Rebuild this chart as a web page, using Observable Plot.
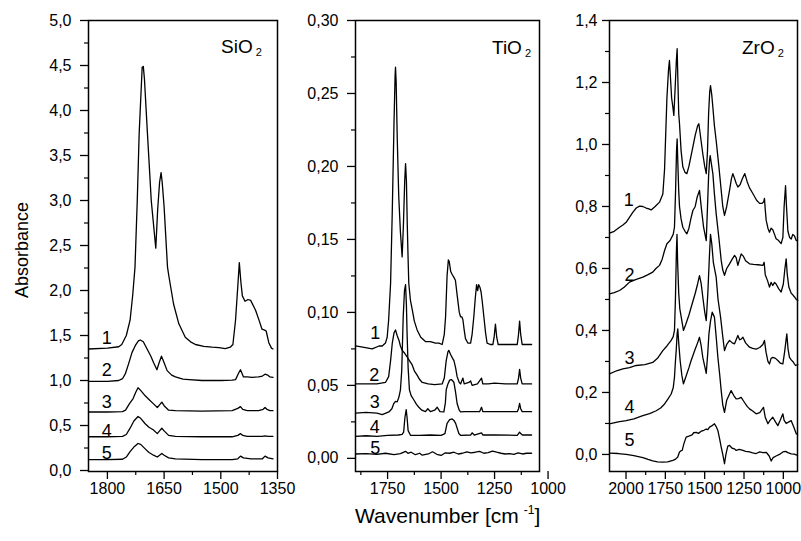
<!DOCTYPE html>
<html>
<head>
<meta charset="utf-8">
<script src="https://cdn.jsdelivr.net/npm/d3@7"></script>
<script src="https://cdn.jsdelivr.net/npm/@observablehq/plot@0.6"></script>
<style>
  html, body { margin: 0; padding: 0; background: #fff; }
  #wrap { position: relative; width: 801px; height: 541px; overflow: hidden; font-family: "Liberation Sans", Arial, sans-serif; color: #000; }
  .panel { position: absolute; top: 0; }
  .lbl { position: absolute; white-space: nowrap; line-height: 1; }
  .lbl sub { font-size: 11px; position: relative; top: 3px; vertical-align: baseline; margin-left: 3px; }
  .lbl sup { font-size: 12px; position: relative; top: -9px; vertical-align: baseline; margin-left: 5px; }
</style>
</head>
<body>
<div id="wrap">
  <div id="p1" class="panel" style="left:28px"></div>
  <div id="p2" class="panel" style="left:295px"></div>
  <div id="p3" class="panel" style="left:549px"></div>
  <div class="lbl" style="left:221px; top:37px; font-size:19px">SiO<sub>2</sub></div>
  <div class="lbl" style="left:492px; top:38px; font-size:19px">TiO<sub>2</sub></div>
  <div class="lbl" style="left:742px; top:38px; font-size:19px">ZrO<sub>2</sub></div>
  <div class="lbl" style="left:22px; top:250px; font-size:18px; transform: translate(-50%,-50%) rotate(-90deg)">Absorbance</div>
  <div class="lbl" style="left:355px; top:505px; font-size:21px">Wavenumber [cm<sup>-1</sup>]</div>
</div>
<script>
// ---------- SiO2 panel ----------
const sio2Curve1 = [[1850,1.35],[1800,1.36],[1770,1.375],[1762,1.40],[1750,1.50],[1740,1.67],[1733,1.95],[1727,2.26],[1721,3.0],[1716,3.74],[1708,4.48],[1705,4.49],[1702,4.35],[1694,3.74],[1684,3.0],[1672,2.47],[1667,2.9],[1662,3.2],[1658,3.31],[1655,3.2],[1650,2.93],[1641,2.26],[1637,2.15],[1625,1.85],[1611,1.63],[1594,1.48],[1580,1.43],[1567,1.40],[1545,1.38],[1523,1.37],[1505,1.365],[1488,1.355],[1475,1.37],[1468,1.40],[1461,1.67],[1455,2.05],[1451,2.31],[1447,2.10],[1443,1.94],[1436,1.88],[1428,1.90],[1421,1.89],[1408,1.78],[1398,1.66],[1391,1.57],[1384,1.56],[1380,1.55],[1373,1.42],[1366,1.36],[1362,1.35]];
const sio2Curve2 = [[1850,0.99],[1800,0.99],[1770,1.0],[1760,1.02],[1752,1.08],[1744,1.185],[1735,1.31],[1726,1.39],[1718,1.44],[1713,1.45],[1705,1.43],[1695,1.35],[1685,1.27],[1678,1.20],[1669,1.12],[1663,1.20],[1657,1.27],[1652,1.22],[1642,1.11],[1630,1.06],[1620,1.04],[1600,1.015],[1584,1.01],[1550,1.0],[1500,1.0],[1470,1.005],[1461,1.01],[1453,1.08],[1448,1.12],[1444,1.08],[1440,1.04],[1430,1.04],[1418,1.035],[1400,1.04],[1390,1.05],[1383,1.07],[1376,1.06],[1370,1.04],[1362,1.035]];
const sio2Curve3 = [[1850,0.65],[1800,0.65],[1760,0.655],[1752,0.67],[1742,0.74],[1732,0.80],[1725,0.87],[1719,0.92],[1712,0.89],[1700,0.83],[1690,0.79],[1678,0.74],[1668,0.70],[1662,0.73],[1656,0.76],[1650,0.72],[1638,0.67],[1620,0.665],[1550,0.66],[1470,0.665],[1455,0.69],[1448,0.71],[1442,0.68],[1430,0.665],[1400,0.665],[1388,0.68],[1383,0.70],[1378,0.68],[1370,0.665],[1362,0.665]];
const sio2Curve4 = [[1850,0.375],[1800,0.375],[1760,0.38],[1750,0.40],[1740,0.47],[1730,0.55],[1719,0.60],[1712,0.58],[1700,0.52],[1690,0.48],[1678,0.45],[1668,0.41],[1662,0.44],[1656,0.47],[1650,0.44],[1638,0.39],[1620,0.38],[1550,0.375],[1470,0.375],[1455,0.39],[1448,0.41],[1442,0.39],[1430,0.38],[1390,0.38],[1383,0.385],[1375,0.38],[1362,0.38]];
const sio2Curve5 = [[1850,0.12],[1800,0.12],[1760,0.125],[1750,0.15],[1740,0.21],[1730,0.26],[1719,0.30],[1712,0.29],[1700,0.24],[1690,0.20],[1678,0.17],[1668,0.15],[1662,0.17],[1656,0.19],[1650,0.17],[1638,0.14],[1620,0.13],[1550,0.12],[1470,0.12],[1455,0.13],[1448,0.16],[1440,0.14],[1420,0.13],[1390,0.13],[1383,0.16],[1375,0.14],[1362,0.13]];
const sio2LabelX = [1802, 1802, 1802, 1802, 1802];
const sio2LabelY = [1.47, 1.11, 0.76, 0.44, 0.19];
const sio2XTicks = [1800, 1650, 1500, 1350];
const sio2XMinor = [1725, 1575, 1425];
const sio2YTicks = [0, 0.5, 1.0, 1.5, 2.0, 2.5, 3.0, 3.5, 4.0, 4.5, 5.0];
const sio2YMinor = [0.25, 0.75, 1.25, 1.75, 2.25, 2.75, 3.25, 3.75, 4.25, 4.75];

// ---------- TiO2 panel ----------
const tio2Curve1 = [[1900,0.077],[1860,0.076],[1822,0.075],[1790,0.077],[1775,0.077],[1760,0.079],[1752,0.083],[1745,0.095],[1736,0.12],[1728,0.17],[1720,0.23],[1715,0.262],[1713,0.268],[1710,0.258],[1705,0.22],[1698,0.18],[1690,0.155],[1682,0.138],[1676,0.16],[1670,0.19],[1666,0.202],[1662,0.19],[1658,0.16],[1654,0.136],[1651,0.12],[1643,0.108],[1635,0.102],[1625,0.094],[1612,0.088],[1595,0.083],[1573,0.080],[1550,0.080],[1526,0.079],[1510,0.079],[1495,0.078],[1485,0.085],[1479,0.097],[1472,0.125],[1466,0.136],[1462,0.135],[1455,0.128],[1448,0.126],[1440,0.124],[1433,0.122],[1425,0.112],[1415,0.100],[1409,0.097],[1403,0.097],[1398,0.095],[1392,0.088],[1386,0.082],[1375,0.079],[1362,0.079],[1355,0.085],[1347,0.097],[1340,0.110],[1334,0.119],[1329,0.115],[1324,0.119],[1318,0.117],[1313,0.114],[1308,0.108],[1300,0.097],[1292,0.086],[1285,0.079],[1270,0.078],[1258,0.078],[1252,0.083],[1246,0.092],[1240,0.083],[1233,0.078],[1200,0.078],[1160,0.078],[1144,0.078],[1138,0.085],[1133,0.094],[1128,0.085],[1121,0.078],[1100,0.078],[1077,0.078]];
const tio2Curve2 = [[1900,0.051],[1850,0.051],[1800,0.051],[1760,0.052],[1745,0.056],[1736,0.067],[1728,0.079],[1720,0.086],[1713,0.088],[1705,0.084],[1697,0.081],[1690,0.077],[1682,0.074],[1670,0.072],[1659,0.0696],[1648,0.067],[1635,0.064],[1625,0.060],[1612,0.057],[1600,0.054],[1588,0.052],[1560,0.051],[1530,0.0505],[1495,0.051],[1485,0.055],[1476,0.067],[1468,0.073],[1464,0.074],[1455,0.071],[1448,0.069],[1440,0.067],[1432,0.062],[1425,0.056],[1415,0.052],[1409,0.051],[1398,0.055],[1392,0.051],[1370,0.052],[1362,0.053],[1355,0.050],[1330,0.051],[1311,0.055],[1305,0.051],[1280,0.051],[1250,0.0515],[1200,0.051],[1144,0.051],[1138,0.055],[1133,0.061],[1128,0.055],[1121,0.051],[1100,0.051],[1077,0.051]];
const tio2Curve3 = [[1900,0.031],[1850,0.0315],[1800,0.031],[1775,0.030],[1744,0.0318],[1730,0.034],[1721,0.0376],[1713,0.039],[1705,0.0387],[1697,0.042],[1690,0.047],[1684,0.060],[1677,0.097],[1671,0.115],[1666,0.119],[1662,0.105],[1659,0.086],[1654,0.062],[1648,0.047],[1640,0.043],[1627,0.040],[1615,0.037],[1604,0.035],[1590,0.033],[1573,0.032],[1562,0.034],[1550,0.032],[1530,0.033],[1518,0.035],[1505,0.032],[1487,0.0318],[1480,0.038],[1476,0.047],[1468,0.051],[1460,0.0536],[1452,0.054],[1445,0.053],[1440,0.052],[1432,0.045],[1425,0.0376],[1415,0.033],[1409,0.0318],[1390,0.032],[1370,0.032],[1320,0.032],[1311,0.035],[1305,0.032],[1280,0.032],[1200,0.032],[1144,0.032],[1138,0.034],[1133,0.0376],[1128,0.034],[1121,0.032],[1077,0.032]];
const tio2Curve4 = [[1900,0.015],[1850,0.0155],[1800,0.015],[1750,0.0158],[1700,0.016],[1682,0.0165],[1675,0.018],[1669,0.028],[1663,0.0334],[1659,0.028],[1654,0.019],[1643,0.0158],[1600,0.0158],[1550,0.016],[1500,0.0158],[1482,0.017],[1472,0.024],[1460,0.0265],[1448,0.027],[1440,0.026],[1432,0.024],[1417,0.017],[1409,0.0158],[1362,0.016],[1355,0.0175],[1345,0.016],[1311,0.0175],[1305,0.016],[1250,0.016],[1144,0.0158],[1138,0.017],[1133,0.018],[1128,0.017],[1120,0.016],[1077,0.016]];
const tio2Curve5 = [[1900,0.003],[1850,0.0032],[1800,0.0028],[1760,0.0035],[1720,0.0025],[1690,0.0032],[1666,0.0048],[1655,0.0035],[1640,0.0042],[1620,0.0025],[1600,0.0035],[1588,0.0022],[1560,0.003],[1540,0.0045],[1520,0.0028],[1500,0.002],[1480,0.0038],[1460,0.0035],[1440,0.0042],[1420,0.003],[1400,0.0035],[1380,0.0045],[1360,0.0038],[1340,0.0042],[1320,0.0048],[1300,0.0035],[1280,0.004],[1260,0.005],[1240,0.0042],[1220,0.0035],[1200,0.003],[1180,0.0032],[1160,0.0028],[1140,0.0038],[1120,0.003],[1100,0.0035],[1077,0.0035]];
const tio2LabelX = [1808, 1812, 1810, 1810, 1808];
const tio2LabelY = [0.0857, 0.057, 0.0387, 0.0215, 0.0067];
const tio2XTicks = [1750, 1500, 1250, 1000];
const tio2XMinor = [1875, 1625, 1375, 1125];
const tio2YTicks = [0, 0.05, 0.10, 0.15, 0.20, 0.25, 0.30];
const tio2YMinor = [0.025, 0.075, 0.125, 0.175, 0.225, 0.275];

// ---------- ZrO2 panel ----------
const zro2Curve1 = [[2105,0.714],[2075,0.72],[2041,0.733],[2020,0.74],[1999,0.749],[1978,0.765],[1957,0.781],[1935,0.795],[1914,0.801],[1893,0.80],[1872,0.795],[1855,0.792],[1840,0.789],[1815,0.80],[1787,0.814],[1766,0.84],[1755,0.92],[1749,1.013],[1740,1.15],[1730,1.24],[1724,1.271],[1718,1.22],[1710,1.15],[1702,1.12],[1696,1.094],[1688,1.18],[1680,1.27],[1675,1.309],[1670,1.2],[1665,1.1],[1660,1.067],[1650,0.98],[1639,0.928],[1625,0.91],[1613,0.906],[1600,0.93],[1588,0.96],[1575,0.992],[1560,1.03],[1545,1.06],[1537,1.067],[1525,1.02],[1512,0.97],[1500,0.93],[1490,0.906],[1482,0.98],[1475,1.1],[1468,1.17],[1463,1.19],[1455,1.16],[1448,1.12],[1438,1.06],[1427,1.013],[1410,0.93],[1395,0.852],[1385,0.80],[1374,0.771],[1360,0.80],[1342,0.852],[1330,0.89],[1321,0.906],[1310,0.89],[1300,0.875],[1289,0.863],[1275,0.87],[1260,0.89],[1245,0.906],[1230,0.88],[1215,0.86],[1194,0.842],[1170,0.82],[1151,0.81],[1135,0.81],[1125,0.815],[1120,0.826],[1115,0.79],[1109,0.755],[1098,0.73],[1088,0.717],[1078,0.73],[1067,0.725],[1056,0.71],[1046,0.696],[1030,0.69],[1014,0.68],[1003,0.70],[995,0.80],[986,0.867],[980,0.80],[971,0.72],[960,0.70],[950,0.695],[940,0.71],[929,0.705],[918,0.69],[910,0.69]];
const zro2Curve2 = [[2105,0.518],[2075,0.522],[2041,0.529],[2010,0.54],[1978,0.556],[1935,0.565],[1893,0.572],[1860,0.58],[1830,0.588],[1810,0.60],[1787,0.61],[1770,0.63],[1755,0.658],[1740,0.68],[1720,0.69],[1700,0.71],[1692,0.733],[1685,0.85],[1679,0.98],[1675,1.018],[1670,0.93],[1665,0.85],[1660,0.80],[1650,0.76],[1639,0.733],[1625,0.72],[1613,0.712],[1600,0.73],[1588,0.76],[1575,0.787],[1560,0.80],[1548,0.83],[1533,0.852],[1520,0.79],[1507,0.733],[1498,0.71],[1490,0.69],[1482,0.80],[1475,0.90],[1469,0.948],[1465,0.964],[1458,0.94],[1448,0.906],[1438,0.84],[1427,0.777],[1410,0.70],[1395,0.626],[1385,0.595],[1374,0.578],[1360,0.60],[1342,0.615],[1325,0.63],[1310,0.642],[1300,0.635],[1289,0.61],[1278,0.63],[1268,0.647],[1255,0.64],[1240,0.625],[1215,0.615],[1190,0.613],[1160,0.612],[1130,0.61],[1122,0.62],[1115,0.58],[1100,0.56],[1088,0.54],[1078,0.555],[1067,0.545],[1056,0.555],[1046,0.55],[1030,0.535],[1014,0.524],[1000,0.55],[990,0.60],[982,0.631],[975,0.58],[965,0.54],[950,0.52],[940,0.515],[929,0.508],[918,0.50],[908,0.497]];
const zro2Curve3 = [[2105,0.26],[2060,0.27],[2020,0.276],[1978,0.28],[1935,0.287],[1880,0.29],[1830,0.297],[1800,0.31],[1766,0.335],[1740,0.35],[1713,0.368],[1700,0.38],[1692,0.40],[1686,0.50],[1680,0.65],[1676,0.71],[1672,0.62],[1665,0.52],[1658,0.47],[1649,0.443],[1635,0.40],[1620,0.42],[1600,0.45],[1586,0.475],[1560,0.52],[1545,0.55],[1533,0.577],[1522,0.55],[1512,0.508],[1500,0.46],[1490,0.432],[1480,0.52],[1469,0.65],[1463,0.71],[1455,0.68],[1445,0.62],[1427,0.572],[1415,0.50],[1399,0.443],[1385,0.38],[1374,0.335],[1360,0.355],[1342,0.368],[1325,0.36],[1310,0.357],[1300,0.37],[1289,0.384],[1278,0.37],[1268,0.372],[1257,0.378],[1240,0.36],[1215,0.346],[1195,0.342],[1173,0.34],[1150,0.345],[1130,0.355],[1120,0.368],[1110,0.33],[1098,0.30],[1088,0.292],[1078,0.31],[1067,0.313],[1050,0.31],[1035,0.303],[1020,0.295],[1003,0.292],[992,0.33],[978,0.389],[970,0.34],[961,0.313],[950,0.305],[940,0.30],[923,0.287],[908,0.29]];
const zro2Curve4 = [[2105,0.099],[2050,0.105],[1999,0.109],[1950,0.115],[1893,0.125],[1850,0.132],[1808,0.141],[1780,0.15],[1755,0.163],[1735,0.178],[1713,0.195],[1700,0.215],[1692,0.249],[1686,0.30],[1681,0.335],[1675,0.39],[1671,0.405],[1665,0.36],[1656,0.303],[1645,0.255],[1635,0.228],[1620,0.25],[1600,0.28],[1586,0.303],[1560,0.34],[1545,0.36],[1533,0.378],[1522,0.35],[1512,0.313],[1500,0.285],[1490,0.262],[1480,0.33],[1473,0.389],[1463,0.43],[1452,0.459],[1438,0.443],[1427,0.38],[1416,0.313],[1405,0.26],[1395,0.206],[1385,0.16],[1374,0.136],[1360,0.175],[1342,0.195],[1332,0.206],[1315,0.19],[1300,0.179],[1285,0.18],[1268,0.184],[1250,0.17],[1230,0.155],[1215,0.147],[1195,0.14],[1173,0.131],[1150,0.135],[1126,0.152],[1115,0.12],[1098,0.099],[1085,0.11],[1067,0.12],[1050,0.105],[1035,0.093],[1020,0.11],[1003,0.131],[995,0.11],[982,0.10],[965,0.105],[950,0.109],[935,0.09],[918,0.067],[910,0.065]];
const zro2Curve5 = [[2105,0.0045],[2050,0.003],[1999,0.0003],[1950,-0.004],[1893,-0.010],[1860,-0.016],[1830,-0.021],[1800,-0.024],[1766,-0.025],[1735,-0.024],[1702,-0.019],[1685,-0.015],[1671,-0.008],[1660,0.008],[1650,0.012],[1643,0.013],[1632,0.035],[1618,0.056],[1605,0.058],[1596,0.06],[1580,0.063],[1570,0.07],[1554,0.071],[1540,0.068],[1522,0.075],[1505,0.078],[1490,0.082],[1480,0.08],[1469,0.088],[1455,0.092],[1438,0.099],[1427,0.09],[1416,0.077],[1405,0.05],[1395,0.024],[1385,0.0],[1374,-0.03],[1365,0.0],[1353,0.027],[1342,0.029],[1325,0.02],[1310,0.018],[1300,0.013],[1280,0.016],[1257,0.013],[1240,0.01],[1215,0.008],[1195,0.005],[1173,0.003],[1150,0.008],[1130,0.006],[1109,0.007],[1090,-0.005],[1077,-0.021],[1065,-0.01],[1046,-0.005],[1025,0.0],[1003,0.008],[985,0.01],[971,0.006],[950,0.002],[930,0.001],[910,-0.003]];
const zro2LabelX = [1982, 1978, 1978, 1978, 1978];
const zro2LabelY = [0.82, 0.577, 0.309, 0.153, 0.045];
const zro2XTicks = [2000, 1750, 1500, 1250, 1000];
const zro2XMinor = [1875, 1625, 1375, 1125];
const zro2YTicks = [0, 0.2, 0.4, 0.6, 0.8, 1.0, 1.2, 1.4];
const zro2YMinor = [0.1, 0.3, 0.5, 0.7, 0.9, 1.1, 1.3];

const curveNames = ["1", "2", "3", "4", "5"];

function comma(decimals) {
  return d => d.toFixed(decimals).replace(".", ",");
}

function panel(cfg) {
  const labels = curveNames.map((t, i) => ({t, x: cfg.labelX[i], y: cfg.labelY[i]}));
  const lineMarks = cfg.curves.map(c =>
    Plot.line(c, {x: d => d[0], y: d => d[1], stroke: "#000", strokeWidth: 1.3})
  );
  return Plot.plot({
    width: cfg.width,
    height: 511,
    marginTop: 20,
    marginBottom: 40,
    marginLeft: 60,
    marginRight: cfg.marginRight,
    style: {background: "transparent", overflow: "visible", fontFamily: "'Liberation Sans', Arial, sans-serif", fontSize: "16px", color: "#000"},
    x: {domain: cfg.xDomain},
    y: {domain: cfg.yDomain},
    marks: [
      ...lineMarks,
      Plot.text(labels, {x: "x", y: "y", text: "t", fontSize: 18, fill: "#000"}),
      Plot.axisY(cfg.yTicks, {tickSize: cfg.yTickSize, tickPadding: cfg.yTickPad, tickFormat: comma(cfg.yDec), label: null, strokeWidth: 1.3}),
      Plot.axisY(cfg.yMinor, {tickSize: 4, tickFormat: () => "", label: null, strokeWidth: 1.2}),
      Plot.axisX(cfg.xTicks, {anchor: "bottom", tickSize: 8, tickPadding: 3, tickFormat: d => String(d), label: null, strokeWidth: 1.3}),
      Plot.axisX(cfg.xMinor, {anchor: "bottom", tickSize: 4, tickFormat: () => "", label: null, strokeWidth: 1.2}),
      Plot.frame({stroke: "#000", strokeWidth: 1.5})
    ]
  });
}

document.getElementById("p1").append(panel({
  width: 264, marginRight: 15,
  xDomain: [1850, 1350], yDomain: [-0.011, 5.0],
  curves: [sio2Curve1, sio2Curve2, sio2Curve3, sio2Curve4, sio2Curve5],
  labelX: sio2LabelX, labelY: sio2LabelY,
  xTicks: sio2XTicks, xMinor: sio2XMinor, yTicks: sio2YTicks, yMinor: sio2YMinor,
  yDec: 1, yTickSize: 8, yTickPad: 9
}));
document.getElementById("p2").append(panel({
  width: 274, marginRight: 30,
  xDomain: [1900, 1040], yDomain: [-0.009, 0.30],
  curves: [tio2Curve1, tio2Curve2, tio2Curve3, tio2Curve4, tio2Curve5],
  labelX: tio2LabelX, labelY: tio2LabelY,
  xTicks: tio2XTicks, xMinor: tio2XMinor, yTicks: tio2YTicks, yMinor: tio2YMinor,
  yDec: 2, yTickSize: 8, yTickPad: 9
}));
document.getElementById("p3").append(panel({
  width: 252, marginRight: 4,
  xDomain: [2105, 910], yDomain: [-0.055, 1.4],
  curves: [zro2Curve1, zro2Curve2, zro2Curve3, zro2Curve4, zro2Curve5],
  labelX: zro2LabelX, labelY: zro2LabelY,
  xTicks: zro2XTicks, xMinor: zro2XMinor, yTicks: zro2YTicks, yMinor: zro2YMinor,
  yDec: 1, yTickSize: 7, yTickPad: 5
}));
</script>
</body>
</html>
